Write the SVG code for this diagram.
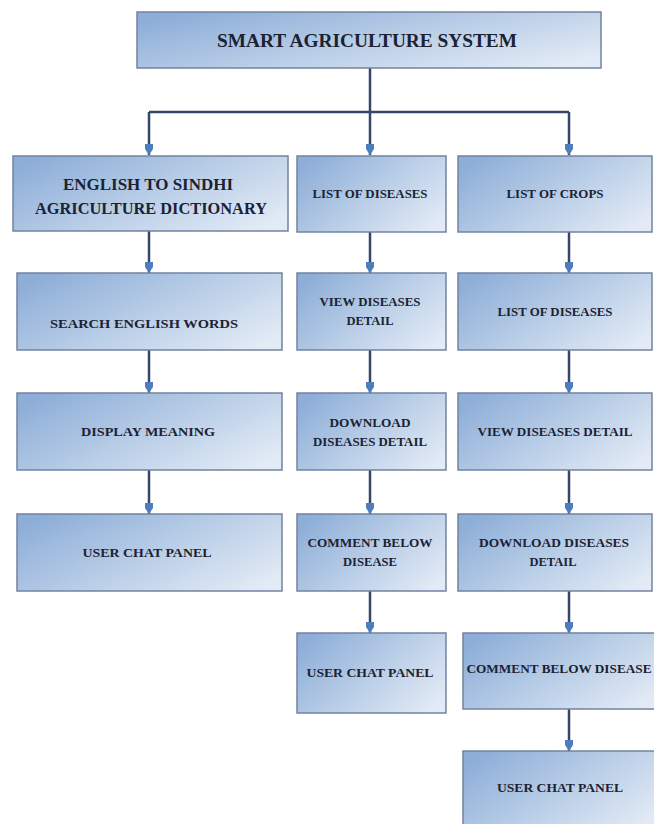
<svg xmlns="http://www.w3.org/2000/svg" width="654" height="824" viewBox="0 0 654 824">
<style>
.box{fill:url(#g);stroke:#71839f;stroke-width:1.5}
.t{font-family:"Liberation Serif","Times New Roman",serif;font-weight:bold;fill:#1b2233;text-anchor:middle;font-size:13px}
.c{fill:none;stroke:#36466a;stroke-width:2.5}
</style>
<defs>
<linearGradient id="g" x1="0" y1="0.2" x2="1" y2="0.8">
<stop offset="0" stop-color="#8eaed8"/>
<stop offset="0.55" stop-color="#bcd0e8"/>
<stop offset="1" stop-color="#e2eaf5"/>
</linearGradient>
<marker id="a" markerUnits="userSpaceOnUse" markerWidth="11" markerHeight="9" viewBox="0 0 11 9" refX="11" refY="4.5" orient="auto">
<path d="M0,0.5 H5 L11,4.5 L5,8.5 H0 Z" fill="#4e7dbd"/>
</marker>
</defs>
<rect width="654" height="824" fill="#ffffff"/>
<g id="connectors">
<path class="c" d="M370,68 V112"/>
<path class="c" d="M149,112 H569"/>
<line class="c" x1="149" y1="112" x2="149" y2="155" marker-end="url(#a)"/>
<line class="c" x1="370" y1="112" x2="370" y2="155" marker-end="url(#a)"/>
<line class="c" x1="569" y1="112" x2="569" y2="155" marker-end="url(#a)"/>
<line class="c" x1="149" y1="231" x2="149" y2="273" marker-end="url(#a)"/>
<line class="c" x1="149" y1="350" x2="149" y2="393" marker-end="url(#a)"/>
<line class="c" x1="149" y1="470" x2="149" y2="514" marker-end="url(#a)"/>
<line class="c" x1="370" y1="232" x2="370" y2="273" marker-end="url(#a)"/>
<line class="c" x1="370" y1="350" x2="370" y2="393" marker-end="url(#a)"/>
<line class="c" x1="370" y1="470" x2="370" y2="514" marker-end="url(#a)"/>
<line class="c" x1="370" y1="591" x2="370" y2="633" marker-end="url(#a)"/>
<line class="c" x1="569" y1="232" x2="569" y2="273" marker-end="url(#a)"/>
<line class="c" x1="569" y1="350" x2="569" y2="393" marker-end="url(#a)"/>
<line class="c" x1="569" y1="470" x2="569" y2="514" marker-end="url(#a)"/>
<line class="c" x1="569" y1="591" x2="569" y2="633" marker-end="url(#a)"/>
<line class="c" x1="569" y1="709" x2="569" y2="751" marker-end="url(#a)"/>
</g>
<g id="n-root"><rect class="box" x="137" y="12" width="464" height="56"/><text class="t" x="367" y="47" style="font-size:18px" textLength="300" lengthAdjust="spacingAndGlyphs">SMART AGRICULTURE SYSTEM</text></g>
<g id="n-dict"><rect class="box" x="13" y="156" width="275" height="75"/><text class="t" x="148" y="190" style="font-size:16px" textLength="170" lengthAdjust="spacingAndGlyphs">ENGLISH TO SINDHI</text><text class="t" x="151" y="214" style="font-size:16px" textLength="232" lengthAdjust="spacingAndGlyphs">AGRICULTURE DICTIONARY</text></g>
<g id="n-search"><rect class="box" x="17" y="273" width="265" height="77"/><text class="t" x="144" y="328" textLength="188" lengthAdjust="spacingAndGlyphs">SEARCH ENGLISH WORDS</text></g>
<g id="n-meaning"><rect class="box" x="17" y="393" width="265" height="77"/><text class="t" x="148" y="436" textLength="134" lengthAdjust="spacingAndGlyphs">DISPLAY MEANING</text></g>
<g id="n-chat1"><rect class="box" x="17" y="514" width="265" height="77"/><text class="t" x="147" y="557" textLength="129" lengthAdjust="spacingAndGlyphs">USER CHAT PANEL</text></g>
<g id="n-diseases"><rect class="box" x="297" y="156" width="149" height="76"/><text class="t" x="370" y="198" textLength="115" lengthAdjust="spacingAndGlyphs">LIST OF DISEASES</text></g>
<g id="n-view1"><rect class="box" x="297" y="273" width="149" height="77"/><text class="t" x="370" y="306" textLength="101" lengthAdjust="spacingAndGlyphs">VIEW DISEASES</text><text class="t" x="370" y="325" textLength="47" lengthAdjust="spacingAndGlyphs">DETAIL</text></g>
<g id="n-download1"><rect class="box" x="297" y="393" width="149" height="77"/><text class="t" x="370" y="427" textLength="81" lengthAdjust="spacingAndGlyphs">DOWNLOAD</text><text class="t" x="370" y="446" textLength="114" lengthAdjust="spacingAndGlyphs">DISEASES DETAIL</text></g>
<g id="n-comment1"><rect class="box" x="297" y="514" width="149" height="77"/><text class="t" x="370" y="547" textLength="125" lengthAdjust="spacingAndGlyphs">COMMENT BELOW</text><text class="t" x="370" y="566" textLength="54" lengthAdjust="spacingAndGlyphs">DISEASE</text></g>
<g id="n-chat2"><rect class="box" x="297" y="633" width="149" height="80"/><text class="t" x="370" y="677" textLength="127" lengthAdjust="spacingAndGlyphs">USER CHAT PANEL</text></g>
<g id="n-crops"><rect class="box" x="458" y="156" width="194" height="76"/><text class="t" x="555" y="198" textLength="97" lengthAdjust="spacingAndGlyphs">LIST OF CROPS</text></g>
<g id="n-diseases2"><rect class="box" x="458" y="273" width="194" height="77"/><text class="t" x="555" y="316" textLength="115" lengthAdjust="spacingAndGlyphs">LIST OF DISEASES</text></g>
<g id="n-view2"><rect class="box" x="458" y="393" width="194" height="77"/><text class="t" x="555" y="436" textLength="155" lengthAdjust="spacingAndGlyphs">VIEW DISEASES DETAIL</text></g>
<g id="n-download2"><rect class="box" x="458" y="514" width="194" height="77"/><text class="t" x="554" y="547" textLength="150" lengthAdjust="spacingAndGlyphs">DOWNLOAD DISEASES</text><text class="t" x="553" y="566" textLength="47" lengthAdjust="spacingAndGlyphs">DETAIL</text></g>
<g id="n-comment2"><rect class="box" x="463" y="633" width="195" height="76"/><text class="t" x="559" y="673" textLength="185" lengthAdjust="spacingAndGlyphs">COMMENT BELOW DISEASE</text></g>
<g id="n-chat3"><rect class="box" x="463" y="751" width="195" height="80"/><text class="t" x="560" y="792" textLength="126" lengthAdjust="spacingAndGlyphs">USER CHAT PANEL</text></g>
</svg>
